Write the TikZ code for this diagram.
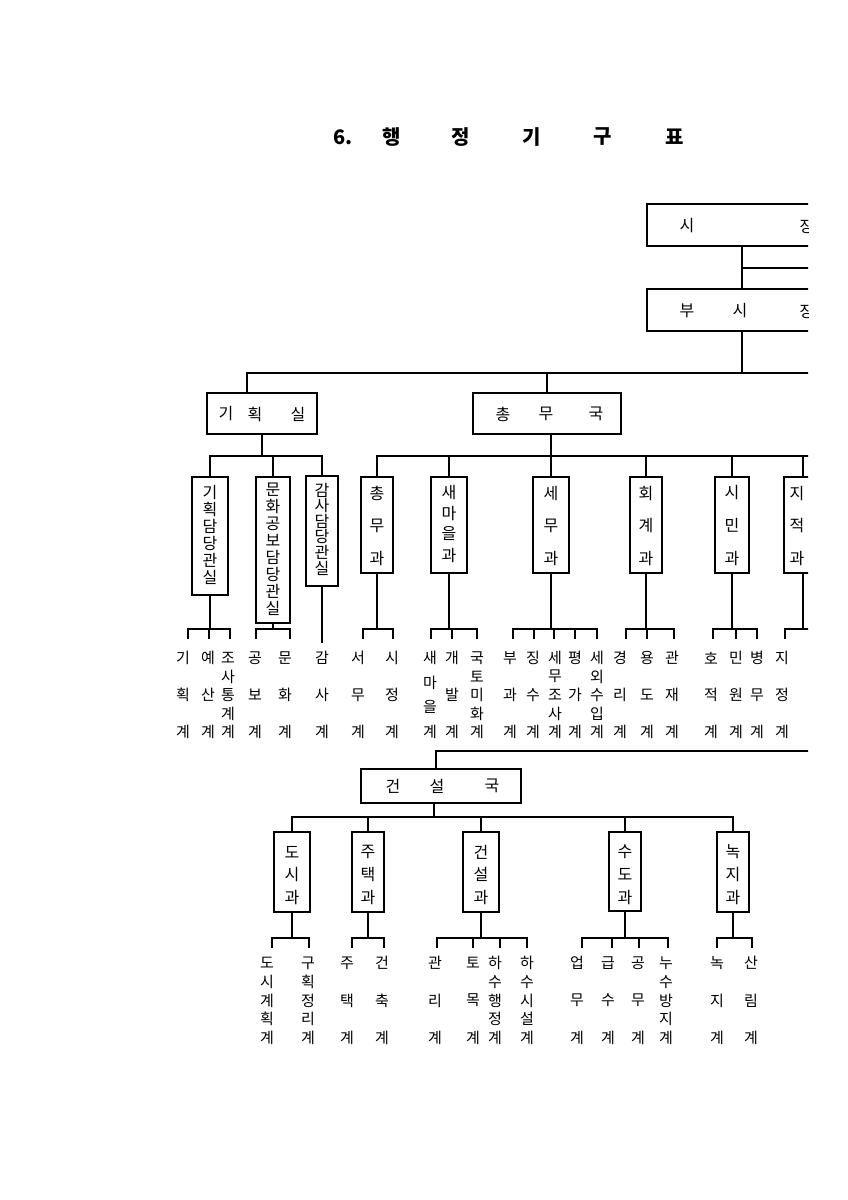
\documentclass[tikz,border=0pt]{standalone}
\usepackage{fontspec}
\usetikzlibrary{fit}
\newfontfamily\kr{Noto Sans CJK KR}
\newcommand{\hs}{\kr\fontsize{7.5}{8}\selectfont}

% a column of hangul syllables, spread evenly between two heights
\newcommand{\vstack}[6][lbl]{%
  \foreach \ch [count=\k] in {#6}{\xdef\vn{\k}}%
  \foreach \ch [count=\k] in {#6}{%
    \pgfmathsetmacro{\vy}{#4+(\k-1)*(#5-#4)/max(\vn-1,1)}%
    \node[#1] (#2-\k) at (#3,\vy) {\ch};}%
}
% drop from a box to a short bus, one stub per section below
\newcommand{\fork}[3]{%
  \draw[ln] (#1.south) -- (#1.south |- 0,#2);
  \foreach \tx [count=\k] in {#3}{%
    \ifnum\k=1 \xdef\fa{\tx}\fi \xdef\fb{\tx}%
    \draw[ln] (\tx,#2) -- (\tx,#2+9);}%
  \draw[ln] (\fa,#2) -- (\fb,#2);}

\begin{document}
\begin{tikzpicture}[x=0.5pt, y=-0.5pt,
  box/.style={draw, line width=0.9pt, inner sep=0pt, outer sep=0pt},
  ln/.style={line width=0.9pt, line cap=rect},
  bus/.style={line width=1.3pt},
  lbl/.style={font=\hs, inner sep=0pt},
  btx/.style={font=\kr\fontsize{8}{9}\selectfont, inner sep=0pt},
  ttl/.style={font=\kr\bfseries\fontsize{10}{12}\selectfont, inner sep=0pt}]
\useasboundingbox (0,0) rectangle (847,1200);

% ================================================================== title
\node[ttl, anchor=west] (num) at (333,137) {6.};
\foreach \ch/\tx [count=\k] in {행/392,정/461,기/532,구/603,표/675}{
  \node[ttl] (ttl\k) at (\tx,137) {\ch};
}

\begin{scope}
\clip (0,0) rectangle (808,1200);

% ================================================================== mayor and vice mayor
\node[box, fit={(647,204) (860,246)}] (mayor) {};
\node[btx] (mayor-a) at (687,226) {시};
\node[btx] (mayor-b) at (807,226) {장};
\node[box, fit={(647,289) (860,331)}] (vice) {};
\node[btx] (vice-a) at (687,311) {부};
\node[btx] (vice-b) at (740,311) {시};
\node[btx] (vice-c) at (807,311) {장};
\coordinate (spine) at (742,0);
\draw[ln] (mayor.south -| spine) -- (vice.north -| spine);
\draw[ln] (spine |- 0,268) -- (860,268);

% ================================================================== main bus
\coordinate (mainW) at (247,373);
\draw[bus] (mainW) -- (860,373);
\draw[ln] (vice.south -| spine) -- (spine |- mainW);

\node[box, fit={(207,393) (317,434)}] (plan) {};
\node[btx] (plan-a) at (226,414) {기};
\node[btx] (plan-b) at (255,414) {획};
\node[btx] (plan-c) at (298,414) {실};
\node[box, fit={(473,393) (621,434)}] (gen) {};
\node[btx] (gen-a) at (503,414) {총};
\node[btx] (gen-b) at (546,414) {무};
\node[btx] (gen-c) at (596,414) {국};
\draw[ln] (mainW) -- (plan.north -| mainW);
\draw[ln] (gen.north) -- (gen.north |- mainW);

% ================================================================== offices and divisions
\coordinate (subA) at (0,456);
\node[box, fit={(192,477) (228,595)}] (gd) {};
\node[box, fit={(256,477) (290,623)}] (mg) {};
\node[box, fit={(306,476) (338,586)}] (ga) {};
\node[box, fit={(361,477) (393,573)}] (zm) {};
\node[box, fit={(431,477) (467,573)}] (sm) {};
\node[box, fit={(533,477) (569,573)}] (sw) {};
\node[box, fit={(630,477) (662,573)}] (hg) {};
\node[box, fit={(715,477) (749,573)}] (sn) {};
\node[box, fit={(784,477) (860,573)}] (jj) {};
\vstack[btx]{gdt}{210}{492}{577}{기,획,담,당,관,실}
\vstack[btx]{mgt}{273}{490}{608}{문,화,공,보,담,당,관,실}
\vstack[btx]{gat}{322}{490}{568}{감,사,담,당,관,실}
\vstack[btx]{zmt}{377}{493}{558}{총,무,과}
\vstack[btx]{smt}{449}{492}{555}{새,마,을,과}
\vstack[btx]{swt}{551}{493}{558}{세,무,과}
\vstack[btx]{hgt}{646}{493}{558}{회,계,과}
\vstack[btx]{snt}{732}{493}{558}{시,민,과}
\vstack[btx]{jjt}{797}{493}{558}{지,적,과}

% planning office feeds three offices
\draw[ln] (plan.south) -- (plan.south |- subA);
\draw[ln] (gd.north) |- (ga.north |- subA) -- (ga.north);
\draw[ln] (mg.north) -- (mg.north |- subA);
% general affairs bureau feeds the divisions
\draw[ln] (gen.south -| sw.north) -- (sw.north);
\draw[ln] (zm.north) |- (860,456);
\foreach \b in {sm,hg,sn}{ \draw[ln] (\b.north) -- (\b.north |- subA); }
\draw[ln] (803,456) -- (jj.north -| 803,0);

% sections
\fork{gd}{629}{188,209,230}
\fork{mg}{629}{256,290}
\draw[ln] (ga.south) -- (ga.south |- 0,642);
\fork{zm}{629}{363,393}
\fork{sm}{629}{431,452,477}
\fork{sw}{629}{513,534,554,575,597}
\fork{hg}{629}{626,647,674}
\fork{sn}{629}{713,736,757}
\draw[ln] (jj.south -| 803,0) -- (803,629);
\draw[ln] (785,638) |- (860,629);

\vstack{l1}{183}{658}{732}{기,획,계}
\vstack{l2}{208}{658}{732}{예,산,계}
\vstack{l3}{228}{658}{732}{조,사,통,계,계}
\vstack{l4}{255}{658}{732}{공,보,계}
\vstack{l5}{285}{658}{732}{문,화,계}
\vstack{l6}{322}{658}{732}{감,사,계}
\vstack{l7}{358}{658}{732}{서,무,계}
\vstack{l8}{392}{658}{732}{시,정,계}
\vstack{l9}{430}{658}{732}{새,마,을,계}
\vstack{l10}{452}{658}{732}{개,발,계}
\vstack{l11}{477}{658}{732}{국,토,미,화,계}
\vstack{l12}{510}{658}{732}{부,과,계}
\vstack{l13}{533}{658}{732}{징,수,계}
\vstack{l14}{555}{658}{732}{세,무,조,사,계}
\vstack{l15}{575}{658}{732}{평,가,계}
\vstack{l16}{597}{658}{732}{세,외,수,입,계}
\vstack{l17}{620}{658}{732}{경,리,계}
\vstack{l18}{647}{658}{732}{용,도,계}
\vstack{l19}{672}{658}{732}{관,재,계}
\vstack{l20}{711}{658}{732}{호,적,계}
\vstack{l21}{736}{658}{732}{민,원,계}
\vstack{l22}{757}{658}{732}{병,무,계}
\vstack{l23}{782}{658}{732}{지,정,계}

% ================================================================== construction bureau
\coordinate (conW) at (436,751);
\draw[bus] (conW) -- (860,751);
\node[box, fit={(361,769) (521,803)}] (con) {};
\node[btx] (con-a) at (393,786) {건};
\node[btx] (con-b) at (437,786) {설};
\node[btx] (con-c) at (492,786) {국};
\draw[ln] (conW) -- (con.north -| conW);

\coordinate (subB) at (434,817);
\node[box, fit={(274,832) (310,912)}] (ds) {};
\node[box, fit={(352,832) (384,912)}] (jt) {};
\node[box, fit={(463,832) (499,912)}] (gs) {};
\node[box, fit={(609,832) (641,911)}] (sd) {};
\node[box, fit={(717,832) (749,912)}] (nj) {};
\vstack[btx]{dst}{292}{852}{897}{도,시,과}
\vstack[btx]{jtt}{368}{852}{897}{주,택,과}
\vstack[btx]{gst}{481}{852}{897}{건,설,과}
\vstack[btx]{sdt}{625}{852}{897}{수,도,과}
\vstack[btx]{njt}{733}{852}{897}{녹,지,과}

\draw[ln] (con.south -| subB) -- (subB);
\draw[ln] (ds.north) |- (nj.north |- subB) -- (nj.north);
\foreach \b in {jt,gs,sd}{ \draw[ln] (\b.north) -- (\b.north |- subB); }

\fork{ds}{938}{272,309}
\fork{jt}{938}{352,384}
\fork{gs}{938}{437,473,500,527}
\fork{sd}{938}{582,612,639,668}
\fork{nj}{938}{717,752}

\vstack{m1}{267}{963}{1038}{도,시,계,획,계}
\vstack{m2}{308}{963}{1038}{구,획,정,리,계}
\vstack{m3}{347}{963}{1038}{주,택,계}
\vstack{m4}{382}{963}{1038}{건,축,계}
\vstack{m5}{435}{963}{1038}{관,리,계}
\vstack{m6}{473}{963}{1038}{토,목,계}
\vstack{m7}{495}{963}{1038}{하,수,행,정,계}
\vstack{m8}{527}{963}{1038}{하,수,시,설,계}
\vstack{m9}{577}{963}{1038}{업,무,계}
\vstack{m10}{608}{963}{1038}{급,수,계}
\vstack{m11}{638}{963}{1038}{공,무,계}
\vstack{m12}{666}{963}{1038}{누,수,방,지,계}
\vstack{m13}{717}{963}{1038}{녹,지,계}
\vstack{m14}{751}{963}{1038}{산,림,계}
\end{scope}
\end{tikzpicture}
\end{document}
